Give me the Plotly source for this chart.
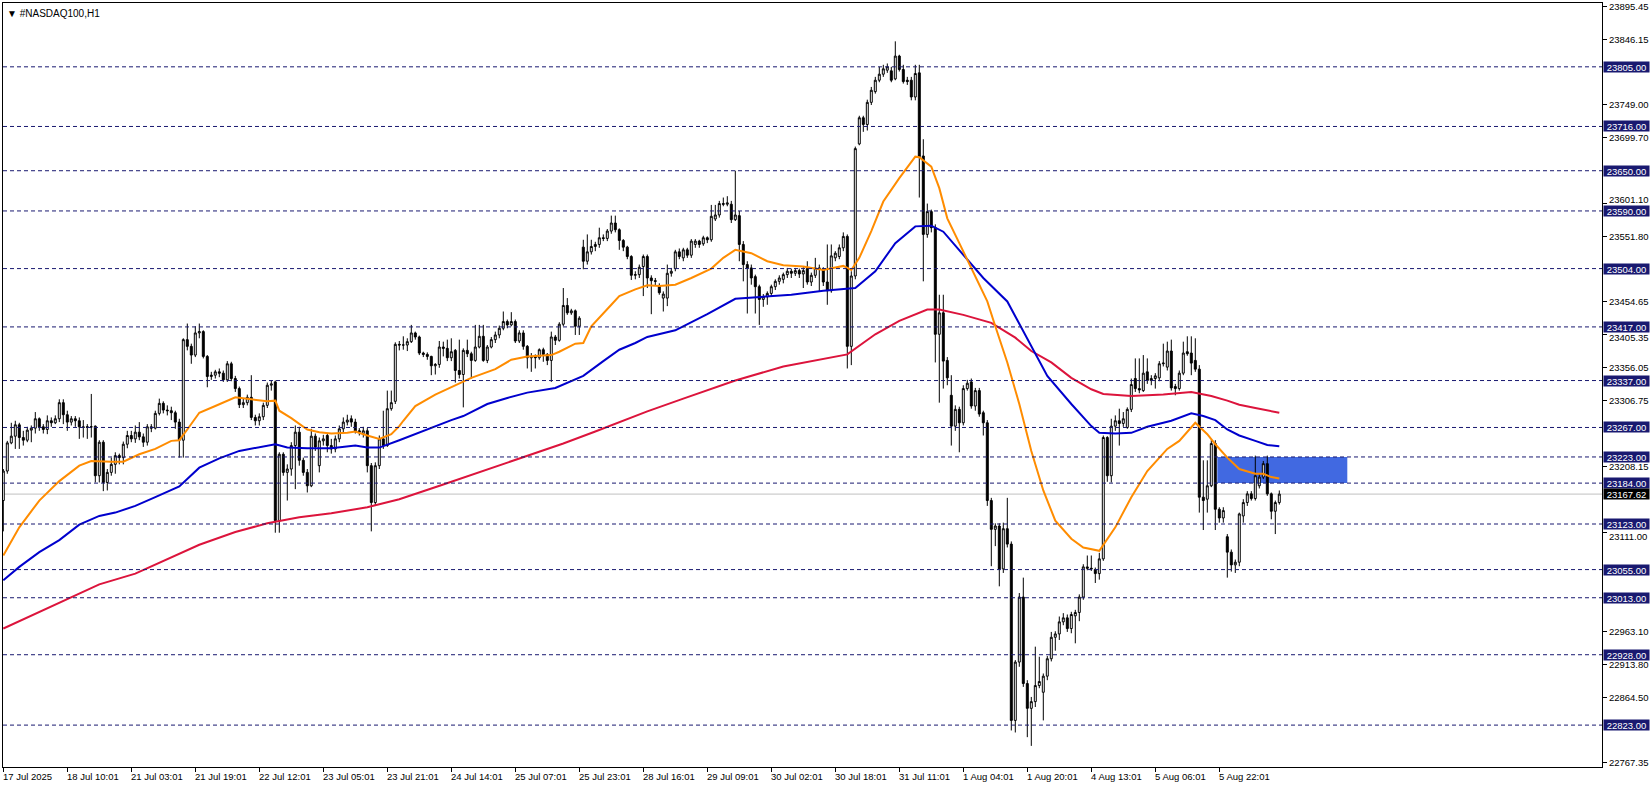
import plotly.graph_objects as go

# ---------------- data ----------------
opens = [23158,23202,23244,23254,23271,23252,23248,23263,23266,23280,23268,23264,23277,23274,23280,23304,23286,23275,23280,23277,
23268,23267,23268,23269,23195,23245,23185,23200,23212,23225,23222,23242,23255,23250,23260,23253,23245,23268,23266,23288,
23303,23293,23292,23289,23275,23248,23398,23388,23375,23408,23410,23373,23343,23345,23350,23348,23338,23362,23340,23325,
23301,23304,23312,23282,23277,23283,23300,23330,23335,23128,23227,23200,23205,23240,23260,23218,23200,23180,23254,23210,
23247,23255,23240,23235,23250,23265,23275,23280,23275,23262,23258,23262,23210,23155,23210,23250,23240,23295,23306,23391,
23390,23390,23395,23408,23402,23378,23376,23373,23359,23361,23387,23385,23371,23382,23352,23346,23382,23377,23367,23387,
23403,23367,23387,23398,23405,23415,23425,23420,23425,23396,23408,23388,23371,23373,23371,23383,23376,23367,23402,23397,
23421,23449,23438,23441,23418,23536,23515,23529,23537,23540,23550,23549,23560,23572,23562,23546,23536,23522,23494,23495,
23507,23522,23490,23486,23478,23460,23460,23497,23504,23529,23520,23532,23524,23540,23545,23541,23550,23547,23578,23584,
23601,23600,23600,23577,23583,23540,23510,23505,23492,23477,23458,23462,23467,23477,23485,23488,23495,23500,23497,23501,
23496,23504,23484,23494,23505,23503,23484,23471,23520,23522,23535,23552,23388,23493,23690,23729,23719,23752,23768,23785,
23794,23800,23799,23787,23821,23801,23785,23785,23760,23796,23672,23555,23589,23565,23406,23438,23367,23315,23269,23294,
23274,23325,23335,23299,23322,23289,23274,23158,23115,23120,23056,23116,23093,22830,22917,23014,22885,22848,22858,22882,
22872,22896,22922,22954,22959,22977,22983,22967,22986,22991,23014,23059,23057,23055,23049,23071,23252,23195,23269,23277,
23273,23267,23294,23340,23325,23322,23350,23337,23340,23341,23362,23357,23381,23328,23325,23348,23380,23378,23367,23354,
23163,23160,23180,23243,23145,23132,23104,23081,23062,23066,23135,23155,23168,23161,23180,23193,23213,23168,23142,23155]
highs = [23205,23247,23274,23277,23274,23262,23268,23270,23290,23282,23272,23285,23282,23285,23309,23309,23292,23284,23284,23282,
23278,23272,23317,23270,23248,23248,23205,23222,23230,23228,23246,23262,23262,23270,23275,23258,23272,23272,23292,23310,
23306,23300,23298,23292,23280,23400,23422,23392,23418,23422,23412,23375,23350,23353,23355,23352,23366,23365,23344,23328,
23310,23316,23345,23286,23288,23304,23334,23337,23337,23230,23230,23212,23245,23270,23268,23222,23205,23265,23258,23252,
23256,23258,23250,23255,23270,23282,23286,23285,23280,23266,23268,23266,23214,23215,23255,23292,23322,23322,23394,23396,
23403,23400,23420,23410,23404,23380,23379,23374,23363,23396,23395,23398,23400,23384,23398,23385,23398,23380,23420,23420,
23420,23390,23402,23410,23419,23440,23428,23439,23428,23412,23412,23390,23378,23376,23385,23386,23378,23410,23405,23424,
23475,23460,23444,23443,23433,23547,23555,23547,23544,23565,23555,23563,23583,23583,23564,23548,23538,23524,23500,23510,
23525,23525,23494,23490,23482,23470,23510,23505,23532,23534,23535,23535,23548,23548,23547,23553,23552,23599,23599,23605,
23610,23612,23605,23650,23590,23545,23515,23510,23495,23480,23466,23470,23480,23488,23494,23498,23505,23504,23505,23504,
23506,23515,23498,23520,23510,23506,23540,23540,23530,23540,23558,23555,23500,23686,23732,23732,23756,23775,23790,23805,
23808,23810,23805,23843,23823,23808,23790,23790,23808,23808,23697,23601,23592,23570,23465,23465,23372,23345,23300,23298,
23330,23338,23340,23326,23326,23292,23278,23162,23124,23124,23125,23162,23097,22920,23020,23043,22890,22865,22940,22925,
22900,22926,22962,22963,22985,22990,22988,22992,22995,23018,23063,23076,23076,23058,23080,23255,23254,23280,23285,23295,
23290,23297,23340,23370,23370,23375,23370,23345,23348,23366,23392,23395,23398,23332,23352,23395,23403,23403,23400,23360,
23218,23218,23248,23248,23148,23148,23108,23085,23070,23140,23160,23172,23172,23225,23198,23217,23225,23170,23158,23173]
lows = [23112,23198,23242,23235,23235,23240,23245,23245,23258,23262,23258,23257,23268,23272,23275,23272,23262,23270,23268,23250,
23252,23250,23252,23185,23185,23172,23173,23195,23198,23212,23212,23236,23245,23244,23248,23238,23240,23260,23264,23285,
23288,23285,23278,23265,23222,23222,23382,23362,23372,23400,23370,23327,23338,23340,23342,23335,23335,23336,23320,23296,
23296,23300,23278,23270,23270,23278,23296,23322,23110,23110,23195,23158,23195,23175,23210,23195,23170,23178,23232,23200,
23240,23230,23228,23230,23245,23260,23270,23268,23258,23255,23252,23200,23112,23150,23205,23235,23238,23292,23302,23382,
23383,23381,23393,23398,23375,23372,23368,23345,23346,23356,23373,23366,23366,23334,23340,23297,23372,23340,23365,23385,
23365,23363,23385,23393,23400,23412,23415,23418,23393,23393,23383,23355,23350,23355,23368,23365,23360,23335,23390,23395,
23418,23435,23435,23405,23405,23503,23510,23525,23530,23535,23545,23545,23556,23558,23532,23530,23518,23487,23488,23490,
23463,23475,23436,23478,23465,23440,23448,23492,23500,23518,23515,23520,23520,23535,23535,23538,23542,23544,23575,23580,
23597,23597,23572,23575,23515,23485,23437,23480,23437,23420,23447,23450,23462,23472,23480,23482,23490,23490,23493,23490,
23475,23480,23478,23490,23470,23478,23450,23468,23515,23518,23530,23355,23360,23488,23688,23708,23710,23748,23765,23782,
23790,23796,23782,23785,23798,23780,23778,23755,23755,23610,23485,23550,23558,23364,23304,23325,23330,23240,23262,23230,
23270,23322,23295,23292,23283,23255,23150,23060,23090,23030,23050,23088,22815,22812,22910,22880,22805,22792,22850,22878,
22830,22890,22918,22934,22950,22972,22962,22960,22945,22978,23010,23054,23053,23035,23040,23068,23186,23185,23262,23240,
23268,23265,23290,23320,23318,23320,23332,23330,23325,23336,23358,23352,23322,23315,23322,23345,23374,23345,23350,23140,
23114,23140,23178,23114,23125,23125,23043,23052,23050,23060,23125,23150,23158,23158,23176,23190,23165,23130,23108,23152]
closes = [23202,23244,23254,23271,23252,23248,23263,23266,23280,23268,23264,23277,23274,23280,23304,23286,23275,23280,23277,23268,
23267,23268,23268,23195,23245,23185,23200,23212,23225,23222,23242,23255,23250,23260,23253,23245,23268,23266,23288,23303,
23293,23292,23289,23275,23248,23398,23388,23375,23408,23410,23373,23343,23345,23350,23348,23338,23362,23340,23325,23301,
23304,23312,23282,23277,23283,23300,23330,23332,23128,23227,23200,23205,23240,23260,23218,23200,23180,23254,23238,23247,
23250,23240,23235,23250,23265,23275,23278,23275,23262,23260,23262,23210,23155,23210,23250,23240,23295,23304,23391,23390,
23390,23395,23408,23402,23378,23376,23373,23359,23361,23387,23385,23371,23380,23352,23346,23382,23377,23367,23387,23403,
23367,23387,23398,23405,23415,23425,23420,23425,23396,23408,23388,23371,23373,23371,23383,23376,23367,23402,23397,23421,
23449,23438,23441,23418,23430,23515,23529,23537,23540,23550,23549,23560,23572,23562,23546,23536,23522,23494,23495,23506,
23522,23490,23486,23485,23468,23466,23497,23500,23529,23522,23532,23524,23545,23545,23540,23550,23547,23582,23584,23601,
23600,23602,23577,23584,23540,23510,23505,23490,23477,23458,23462,23467,23477,23485,23490,23495,23500,23497,23501,23496,
23501,23484,23494,23505,23503,23484,23471,23523,23527,23535,23552,23388,23493,23683,23729,23719,23752,23770,23785,23794,
23802,23805,23785,23821,23801,23783,23783,23760,23795,23671,23555,23589,23565,23406,23438,23366,23341,23269,23294,23274,
23325,23333,23299,23322,23287,23274,23158,23115,23120,23056,23116,23093,22830,22917,23014,22885,22848,22858,22882,22888,
22896,22922,22954,22959,22977,22983,22967,22988,22991,23014,23059,23057,23056,23049,23071,23252,23195,23269,23277,23273,
23280,23294,23331,23325,23323,23348,23337,23340,23344,23362,23363,23381,23326,23325,23348,23378,23377,23363,23354,23163,
23158,23180,23243,23145,23132,23143,23081,23062,23066,23138,23155,23168,23161,23195,23193,23213,23168,23142,23155,23167.62]

# moving averages (bar index, price)
ma_fast_idx = [0,4,9,14,19,22,27,30,34,38,42,44,46,49,53,58,62,66,68,69,72,76,79,82,86,88,91,94,97,99,100,103,108,113,117,
               123,127,131,137,139,143,145,147,152,154,158,161,164,168,172,177,180,183,187,191,195,200,205,210,212,214,217,
               220,224,228,229,232,234,236,239,242,246,248,251,254,257,260,263,267,270,274,278,282,286,291,294,298,301,303,
               306,309,313,315,317,319]
ma_fast_val = [23076,23118,23158,23187,23210,23217,23216,23216,23227,23235,23247,23248,23264,23289,23299,23312,23309,23306,
               23307,23292,23281,23264,23260,23258,23259,23261,23255,23250,23257,23269,23277,23299,23316,23330,23341,23354,
               23368,23373,23375,23380,23392,23393,23418,23450,23463,23473,23479,23478,23480,23490,23504,23520,23532,23527,
               23515,23509,23507,23502,23508,23502,23520,23560,23604,23639,23671,23670,23656,23624,23579,23542,23505,23455,
               23418,23364,23302,23232,23173,23128,23101,23088,23083,23118,23163,23202,23235,23247,23274,23257,23242,23222,
               23205,23198,23198,23193,23191]
ma_mid_idx = [0,4,9,14,19,24,28,33,38,44,49,54,59,64,68,71,76,82,88,91,94,99,105,112,115,121,126,131,138,141,145,150,154,
              158,161,168,176,183,188,197,205,213,218,223,228,232,235,239,245,251,254,258,261,267,272,274,278,282,286,292,
              297,300,303,306,309,313,316,319]
ma_mid_val = [23039,23059,23081,23099,23122,23135,23140,23150,23163,23179,23207,23221,23232,23237,23242,23237,23236,23236,
              23240,23237,23237,23248,23262,23278,23284,23302,23311,23319,23326,23334,23344,23366,23383,23393,23402,23412,
              23436,23459,23461,23465,23471,23475,23500,23542,23567,23568,23559,23532,23490,23455,23421,23376,23344,23302,
              23269,23259,23258,23259,23268,23277,23288,23284,23278,23264,23255,23247,23241,23239]
ma_slow_idx = [0,8,16,24,33,41,49,58,66,74,82,91,99,110,120,131,140,148,156,161,170,183,195,203,211,218,224,231,234,240,
               247,253,257,262,267,272,275,282,290,297,302,306,309,313,316,319]
ma_slow_val = [22967,22989,23011,23033,23049,23071,23092,23111,23124,23133,23139,23148,23160,23182,23202,23225,23243,23261,
               23279,23291,23310,23337,23358,23367,23376,23406,23426,23443,23443,23435,23423,23401,23381,23364,23341,23324,
               23317,23314,23316,23320,23314,23307,23301,23296,23293,23289]

levels = [23805,23716,23650,23590,23504,23417,23337,23267,23223,23184,23123,23055,23013,22928,22823]
bid = 23167.62
zone_bars = [303.5, 336]
zone_prices = [23184, 23223]

time_tick_idx = [0,16,32,48,64,80,96,112,128,144,160,176,192,208,224,240,256,272,288,304]
time_tick_txt = ["17 Jul 2025","18 Jul 10:01","21 Jul 03:01","21 Jul 19:01","22 Jul 12:01","23 Jul 05:01",
                 "23 Jul 21:01","24 Jul 14:01","25 Jul 07:01","25 Jul 23:01","28 Jul 16:01","29 Jul 09:01",
                 "30 Jul 02:01","30 Jul 18:01","31 Jul 11:01","1 Aug 04:01","1 Aug 20:01","4 Aug 13:01",
                 "5 Aug 06:01","5 Aug 22:01"]
price_ticks = [23895.45,23846.15,23749.00,23699.70,23601.10,23551.80,23454.65,23405.35,23356.05,23306.75,
               23208.15,23111.00,22963.10,22913.80,22864.50,22767.35]

# tick labels that sit against a level tag are nudged a few pixels (style, not data)
NUDGE_PX = {23601.10: 4, 23405.35: -3, 23111.00: -4}

FONT = "Liberation Sans"
FS = 9.5
NAVY = "#191970"

fig = go.Figure()
fig.add_trace(go.Candlestick(
    x=list(range(len(closes))), open=opens, high=highs, low=lows, close=closes,
    increasing=dict(line=dict(color="black", width=1), fillcolor="white"),
    decreasing=dict(line=dict(color="black", width=1), fillcolor="black"),
    whiskerwidth=0, showlegend=False, hoverinfo="skip"))
fig.add_trace(go.Scatter(x=ma_slow_idx, y=ma_slow_val, mode="lines",
                         line=dict(color="#DC143C", width=2), showlegend=False, hoverinfo="skip"))
fig.add_trace(go.Scatter(x=ma_mid_idx, y=ma_mid_val, mode="lines",
                         line=dict(color="#0000CD", width=2), showlegend=False, hoverinfo="skip"))
fig.add_trace(go.Scatter(x=ma_fast_idx, y=ma_fast_val, mode="lines",
                         line=dict(color="#FF8C00", width=2), showlegend=False, hoverinfo="skip"))

shapes = []
shapes.append(dict(type="rect", xref="x", yref="y", x0=zone_bars[0], x1=zone_bars[1],
                   y0=zone_prices[0], y1=zone_prices[1], fillcolor="#4169E1", line=dict(width=0), layer="below"))
shapes.append(dict(type="line", xref="paper", yref="y", x0=0, x1=1, y0=bid, y1=bid,
                   line=dict(color="#C0C0C0", width=1), layer="below"))
for lv in levels:
    shapes.append(dict(type="line", xref="paper", yref="y", x0=0, x1=1, y0=lv, y1=lv,
                       line=dict(color=NAVY, width=1, dash="4px,3px"), layer="above"))

annotations = []
# nudged price tick labels
for v in price_ticks:
    if v in NUDGE_PX:
        annotations.append(dict(xref="paper", yref="y", x=1, y=v, xanchor="left", yanchor="middle",
                                xshift=6, yshift=NUDGE_PX[v], text=f"{v:.2f}", showarrow=False, borderpad=0,
                                font=dict(family=FONT, size=FS, color="black")))
for lv in levels:
    annotations.append(dict(xref="paper", yref="y", x=1, y=lv, xanchor="left", yanchor="middle", xshift=1,
                            text=f"{lv:.2f}", showarrow=False, bgcolor=NAVY, width=45, height=10,
                            borderpad=0, font=dict(family=FONT, size=FS, color="white")))
annotations.append(dict(xref="paper", yref="y", x=1, y=bid, xanchor="left", yanchor="middle", xshift=1,
                        text=f"{bid:.2f}", showarrow=False, bgcolor="black", width=45, height=10,
                        borderpad=0, font=dict(family=FONT, size=FS, color="white")))
for i, t in zip(time_tick_idx, time_tick_txt):
    annotations.append(dict(xref="x", yref="paper", x=i, y=0, xanchor="left", yanchor="top", xshift=-2, yshift=-2,
                            text=t, showarrow=False, font=dict(family=FONT, size=FS, color="black")))
annotations.append(dict(xref="paper", yref="paper", x=0, y=1, xanchor="left", yanchor="top", xshift=2, yshift=-3,
                        text="\u25BC #NASDAQ100,H1", showarrow=False, font=dict(family=FONT, size=10, color="black")))

fig.update_layout(
    width=1652, height=787,
    margin=dict(l=3, r=50, t=1, b=20),
    paper_bgcolor="white", plot_bgcolor="white",
    shapes=shapes, annotations=annotations,
    showlegend=False,
    xaxis=dict(range=[-0.075, 399.675], tickvals=time_tick_idx, showticklabels=False,
               ticks="outside", ticklen=4, tickcolor="black", showgrid=False, zeroline=False,
               showline=True, mirror=True, linecolor="black", linewidth=1,
               rangeslider=dict(visible=False)),
    yaxis=dict(range=[22760.5, 23900.2], side="right", tickvals=price_ticks,
               ticktext=["" if v in NUDGE_PX else f"{v:.2f}" for v in price_ticks],
               ticks="outside", ticklen=4, tickcolor="black", ticklabeloverflow="allow",
               tickfont=dict(family=FONT, size=FS, color="black"), showgrid=False, zeroline=False,
               showline=True, mirror=True, linecolor="black", linewidth=1),
)

fig.write_html("out.html", config={"displayModeBar": False},
               post_script="document.body.style.margin='0';document.body.style.padding='0';"
                           "document.body.style.overflow='hidden';")
